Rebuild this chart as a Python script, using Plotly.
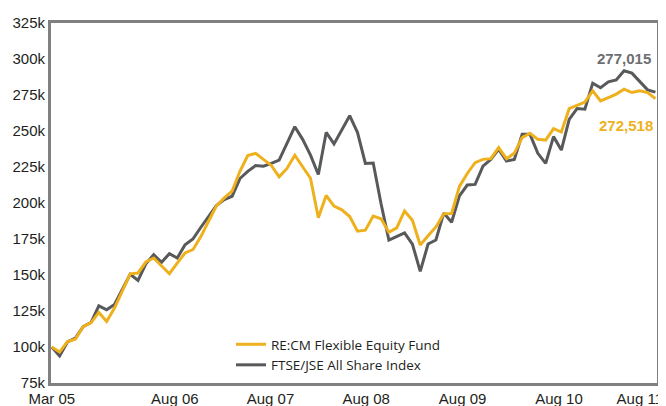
import plotly.graph_objects as go

# Monthly values (R thousands), Mar 2005 .. Aug 2011 (78 months)
month_index = list(range(78))
fund = [100, 96.5, 103.8, 105.4, 114.2, 116.8, 124, 117.7, 127, 139,
        150.8, 151.4, 159, 161.8, 156.5, 150.9, 158.3, 165.3, 167.6, 176.5,
        187.3, 198, 203.5, 208.2, 222, 233, 234.5, 230.5, 226.1, 218.2,
        224, 233.2, 225.2, 217.2, 189.7, 205.2, 197.8, 195.3, 190.6, 180.4,
        181.1, 190.9, 189, 179.7, 182.7, 194.5, 188, 170.8, 177.2, 183.4,
        192.5, 192.7, 211.5, 220.5, 228, 230.3, 230.8, 238.4, 230.8, 234.5,
        245.4, 248.4, 244.2, 243.7, 251.6, 249.3, 265.5, 267.8, 270.1, 277.9,
        270.9, 273.2, 275.6, 279, 276.7, 277.9, 276.7, 272.518]
index = [100, 93.8, 103.5, 106.1, 114.2, 117, 128.6, 125.8, 129.5, 140,
         150.5, 146.2, 157.8, 164.1, 158.8, 164.8, 161.8, 171, 175, 183,
         190.4, 198.3, 202.4, 204.7, 217, 222, 226, 225.6, 227.5, 229.8,
         241.4, 253, 244.2, 233.2, 219.8, 249, 241, 251, 260.6, 248.9,
         227.5, 227.8, 199.5, 174.3, 176.9, 179.2, 171.5, 152.5, 171.5, 174.3,
         193, 186.6, 205, 212.5, 212.9, 225.6, 230.3, 237.3, 229.1, 230.3,
         247.7, 247.7, 234.5, 227.5, 246.1, 236.8, 258.1, 265.6, 265.1, 283.2,
         280, 284.1, 285.5, 291.8, 290.2, 284.1, 278.6, 277.015]

series_names = ["RE:CM Flexible Equity Fund", "FTSE/JSE All Share Index"]
x_tick_labels = ["Mar 05", "Aug 06", "Aug 07", "Aug 08", "Aug 09", "Aug 10", "Aug 11"]
x_tick_pos = [0, 15.7, 27.9, 40.1, 52.4, 64.7, 75.0]
y_tick_vals = [75, 100, 125, 150, 175, 200, 225, 250, 275, 300, 325]
y_tick_text = [f"{v}k" for v in y_tick_vals]

YELLOW = "#EEB11D"
GRAY = "#58595B"

fig = go.Figure()
fig.add_trace(go.Scatter(x=month_index, y=index, mode="lines", name=series_names[1],
                         line=dict(color=GRAY, width=3), legendrank=2))
fig.add_trace(go.Scatter(x=month_index, y=fund, mode="lines", name=series_names[0],
                         line=dict(color=YELLOW, width=3), legendrank=1))

fig.add_annotation(x=month_index[-1], y=index[-1], text=f"<b>{round(index[-1]*1000):,}</b>",
                   showarrow=False, xanchor="right", yanchor="bottom", xshift=-2, yshift=23,
                   font=dict(family="Liberation Sans, Arial", size=15, color="#6D6E71"))
fig.add_annotation(x=month_index[-1], y=fund[-1], text=f"<b>{round(fund[-1]*1000):,}</b>",
                   showarrow=False, xanchor="right", yanchor="top", xshift=0, yshift=-16,
                   font=dict(family="Liberation Sans, Arial", size=15, color=YELLOW))

# page body has an 8px margin, so the figure is sized to fit the 666x406 window
fig.update_layout(
    width=658, height=398,
    margin=dict(l=43, r=9, t=15, b=23, autoexpand=False),
    plot_bgcolor="white", paper_bgcolor="white",
    font=dict(family="Liberation Sans, Arial", size=15, color="#231F20"),
    showlegend=True,
    legend=dict(x=0.297, y=0.150, xanchor="left", yanchor="top",
                bgcolor="rgba(0,0,0,0)", tracegroupgap=0,
                font=dict(family="Open Sans", size=13.5, color="#231F20")),
    xaxis=dict(range=[-0.1, 77.2], showgrid=False, zeroline=False, automargin=False,
               showline=True, linecolor="#808080", linewidth=3, mirror=True,
               tickmode="array", tickvals=x_tick_pos, ticktext=x_tick_labels,
               ticks="", ticklen=0, ticklabeloverflow="allow"),
    yaxis=dict(range=[75, 325], showgrid=False, zeroline=False, automargin=False,
               showline=True, linecolor="#808080", linewidth=3, mirror=True,
               tickmode="array", tickvals=y_tick_vals, ticktext=y_tick_text,
               ticks="", ticklen=0),
)

fig.write_html("out.html")
